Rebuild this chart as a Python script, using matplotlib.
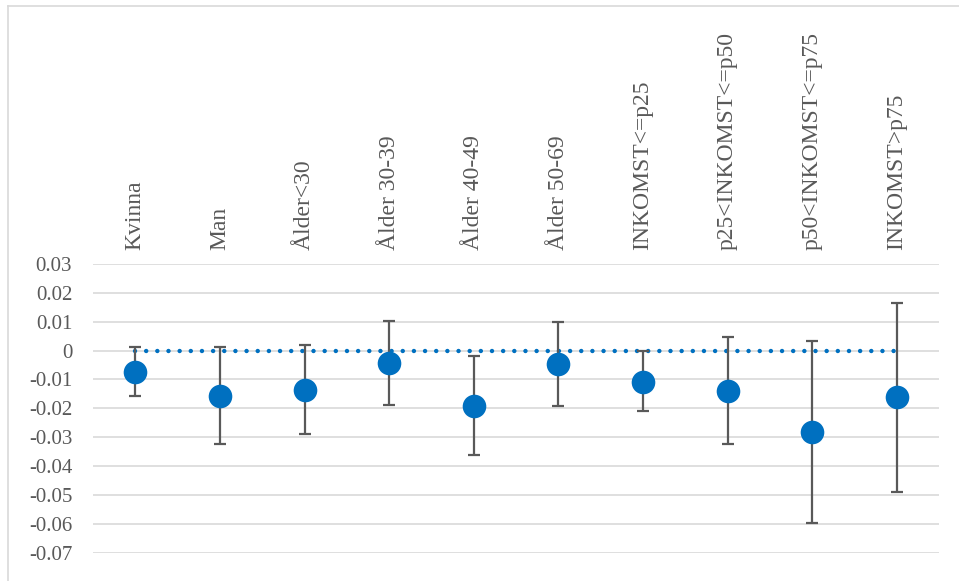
import matplotlib
matplotlib.use("Agg")
import matplotlib.pyplot as plt
from matplotlib.lines import Line2D
import numpy as np

categories = ["Kvinna", "Man", "Ålder<30", "Ålder 30-39", "Ålder 40-49", "Ålder 50-69",
              "INKOMST<=p25", "p25<INKOMST<=p50", "p50<INKOMST<=p75", "INKOMST>p75"]
estimates = [-0.0073, -0.0158, -0.0137, -0.0044, -0.0191, -0.0047, -0.0107, -0.0140, -0.0283, -0.0162]
upper = [0.0013, 0.0011, 0.0020, 0.0102, -0.0019, 0.0098, -0.0001, 0.0046, 0.0034, 0.0166]
lower = [-0.0157, -0.0325, -0.0290, -0.0190, -0.0362, -0.0191, -0.0209, -0.0322, -0.0598, -0.0489]
reference = [0.0] * len(categories)
yticks = [0.03, 0.02, 0.01, 0.0, -0.01, -0.02, -0.03, -0.04, -0.05, -0.06, -0.07]
ytick_labels = ["0.03", "0.02", "0.01", "0", "-0.01", "-0.02", "-0.03", "-0.04", "-0.05", "-0.06", "-0.07"]

W, H = 959, 581
fig = plt.figure(figsize=(W / 100, H / 100), dpi=100)
fig.patch.set_facecolor("white")

left, right = 93, 939
top_px, bot_px = 264, 552.7
ax = fig.add_axes([left / W, (H - bot_px) / H, (right - left) / W, (bot_px - top_px) / H])

x = np.arange(len(categories))
est = np.array(estimates)
yerr = np.vstack([est - np.array(lower), np.array(upper) - est])

text_color = "#595959"
font = "Liberation Serif"

ax.plot(x, reference, color="#0070C0", lw=3.2, linestyle=(0, (0.01, 2.5)),
        dash_capstyle="round", zorder=2)
ax.errorbar(x, est, yerr=yerr, fmt="none", ecolor="#595959", elinewidth=1.6,
            capsize=4.5, capthick=1.6, zorder=3)
ax.plot(x, est, "o", color="#0070C0", markersize=17, markeredgewidth=0, zorder=4)

ax.set_xlim(-0.5, len(categories) - 0.5)
ax.set_ylim(-0.07, 0.03)
ax.set_yticks(yticks)
ax.set_yticklabels(ytick_labels, family=font, fontsize=15, color=text_color)
ax.tick_params(axis="y", length=0, pad=15)
ax.yaxis.grid(True, color="#D9D9D9", lw=1.2)
ax.set_axisbelow(True)

ax.xaxis.tick_top()
ax.set_xticks(x)
ax.set_xticklabels(categories, rotation=90, family=font, fontsize=17, color=text_color)
ax.tick_params(axis="x", length=0, pad=10)

for s in ax.spines.values():
    s.set_visible(False)

# chart area border (left and top)
fig.add_artist(Line2D([8 / W, 8 / W], [0, (H - 6) / H], color="#D9D9D9", lw=1.2))
fig.add_artist(Line2D([8 / W, 1], [(H - 6) / H, (H - 6) / H], color="#D9D9D9", lw=1.2))

fig.savefig("out.png", dpi=100)
